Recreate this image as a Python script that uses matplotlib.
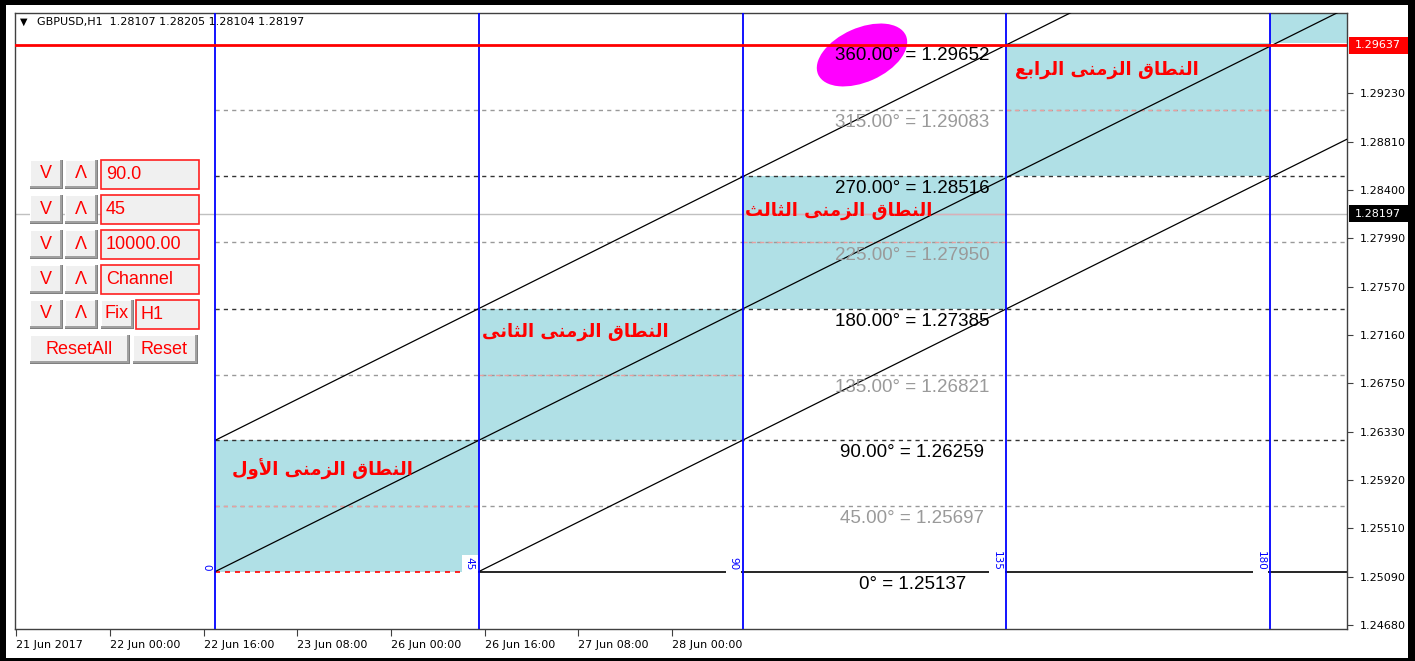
import matplotlib
matplotlib.use("Agg")
import matplotlib.pyplot as plt
from matplotlib.patches import Rectangle, Ellipse
from matplotlib.transforms import IdentityTransform

# ---------------- data ----------------
header_text = "GBPUSD,H1  1.28107 1.28205 1.28104 1.28197"
x_tick_bars = [0, 16, 32, 48, 64, 80, 96, 112]
x_tick_labels = ["21 Jun 2017", "22 Jun 00:00", "22 Jun 16:00", "23 Jun 08:00",
                 "26 Jun 00:00", "26 Jun 16:00", "27 Jun 08:00", "28 Jun 00:00"]
y_ticks = [1.24680, 1.25090, 1.25510, 1.25920, 1.26330, 1.26750,
           1.27160, 1.27570, 1.27990, 1.28400, 1.28810, 1.29230]
level_angles = [0, 45, 90, 135, 180, 225, 270, 315, 360]
level_prices = [1.25137, 1.25697, 1.26259, 1.26821, 1.27385,
                1.27950, 1.28516, 1.29083, 1.29652]
time_bars = [34, 79, 124, 169, 214]
time_labels = ["0", "45", "90", "135", "180"]
zone_names = ["النطاق الزمنى الأول", "النطاق الزمنى الثانى",
              "النطاق الزمنى الثالث", "النطاق الزمنى الرابع"]
bid_price = 1.28197
alert_price = 1.29637
panel_values = ["90.0", "45", "10000.00", "Channel", "H1"]
panel_buttons = ["V", "Λ", "Fix", "ResetAll", "Reset"]

# ---------------- style / layout ----------------
W, H, DPI = 1415, 661, 100
X_LIM = (-0.2, 227.2)
Y_LIM = (1.246458, 1.299108)
LABEL_BAR = 153
zone_label_pos = [(36.9, 1.26013), (79.6, 1.27184), (124.5, 1.28218), (170.6, 1.29424)]
ellipse_center = (144.4, 1.29552)
CYAN = "#B0E0E6"
SALMON = "#E8A0A0"

# simple Arabic shaping to presentation forms (visual order)
FORMS = {
    'ا': ('\uFE8D', '\uFE8E', None, None),
    'أ': ('\uFE83', '\uFE84', None, None),
    'ب': ('\uFE8F', '\uFE90', '\uFE91', '\uFE92'),
    'ث': ('\uFE99', '\uFE9A', '\uFE9B', '\uFE9C'),
    'ر': ('\uFEAD', '\uFEAE', None, None),
    'ز': ('\uFEAF', '\uFEB0', None, None),
    'ط': ('\uFEC1', '\uFEC2', '\uFEC3', '\uFEC4'),
    'ع': ('\uFEC9', '\uFECA', '\uFECB', '\uFECC'),
    'ق': ('\uFED5', '\uFED6', '\uFED7', '\uFED8'),
    'ل': ('\uFEDD', '\uFEDE', '\uFEDF', '\uFEE0'),
    'م': ('\uFEE1', '\uFEE2', '\uFEE3', '\uFEE4'),
    'ن': ('\uFEE5', '\uFEE6', '\uFEE7', '\uFEE8'),
    'و': ('\uFEED', '\uFEEE', None, None),
    'ى': ('\uFEEF', '\uFEF0', None, None),
}
LAM_ALEF = {'ا': ('\uFEFB', '\uFEFC'), 'أ': ('\uFEF7', '\uFEF8')}


def shape_word(word):
    units = []
    i = 0
    while i < len(word):
        c = word[i]
        if c == 'ل' and i + 1 < len(word) and word[i + 1] in LAM_ALEF:
            units.append(('LA', word[i + 1]))
            i += 2
        else:
            units.append(('C', c))
            i += 1

    def dual(u):
        return u[0] == 'C' and u[1] in FORMS and FORMS[u[1]][2] is not None

    out = []
    for k, u in enumerate(units):
        jp = k > 0 and dual(units[k - 1])
        if u[0] == 'LA':
            out.append(LAM_ALEF[u[1]][1 if jp else 0])
            continue
        c = u[1]
        if c not in FORMS:
            out.append(c)
            continue
        f = FORMS[c]
        jn = k + 1 < len(units) and f[2] is not None
        if jp and jn:
            out.append(f[3])
        elif jp:
            out.append(f[1])
        elif jn:
            out.append(f[2])
        else:
            out.append(f[0])
    return ''.join(out)


def shape(text):
    return ' '.join(shape_word(w) for w in text.split(' '))[::-1]


fig = plt.figure(figsize=(W / DPI, H / DPI), dpi=DPI)
fig.patch.set_facecolor("white")


def fx(px):
    return px / W


def fy(py):
    return 1 - py / H


L, R, T, B = 15, 1347, 13, 629
ax = fig.add_axes([fx(L), fy(B), (R - L) / W, (B - T) / H])
ax.set_xlim(*X_LIM)
ax.set_ylim(*Y_LIM)
ax.set_autoscale_on(False)
xmin, xmax = X_LIM
ymin, ymax = Y_LIM

for s in ax.spines.values():
    s.set_color("#404040")
    s.set_linewidth(1)

# cyan time zones
for i in range(len(time_bars)):
    x0 = time_bars[i]
    x1 = time_bars[i + 1] if i + 1 < len(time_bars) else xmax
    y0 = level_prices[2 * i]
    y1 = level_prices[2 * i + 2] if 2 * i + 2 < len(level_prices) else ymax
    ax.add_patch(Rectangle((x0, y0), x1 - x0, y1 - y0, facecolor=CYAN,
                           edgecolor="none", zorder=1))

# bid line
ax.axhline(bid_price, color="#C0C0C0", lw=1, zorder=2)
for i in range(len(time_bars) - 1):
    if level_prices[2 * i] <= bid_price < level_prices[2 * i + 2]:
        ax.plot([time_bars[i], time_bars[i + 1]], [bid_price, bid_price],
                color="#D8B0B8", lw=1, zorder=2.1)

# level lines + labels
for idx, (a, p) in enumerate(zip(level_angles, level_prices)):
    if a == 0:
        ax.plot([time_bars[0], time_bars[1]], [p, p], color="red", lw=1.2,
                ls=(0, (3, 3)), zorder=2.5)
        ax.plot([time_bars[1], xmax], [p, p], color="black", lw=1.2, zorder=2.5)
        txt, col = "0° = %.5f" % p, "black"
    elif a % 90 == 0:
        if a < 360:
            ax.plot([time_bars[0], xmax], [p, p], color="#333333", lw=1,
                    ls=(0, (3, 3)), zorder=2.5)
        txt, col = "%.2f° = %.5f" % (a, p), "black"
    else:
        ax.plot([time_bars[0], xmax], [p, p], color="#999999", lw=1,
                ls=(0, (3, 3)), zorder=2.5)
        k = (idx - 1) // 2
        ax.plot([time_bars[k], time_bars[k + 1]], [p, p], color=SALMON, lw=1,
                ls=(0, (3, 3)), zorder=2.6)
        txt, col = "%.2f° = %.5f" % (a, p), "#9A9A9A"
    ax.annotate(txt, (LABEL_BAR, p), xytext=(0, -3), textcoords="offset points",
                ha="center", va="top", fontsize=13.5, family="Liberation Sans",
                color=col, zorder=7)

# magenta highlight ellipse (pixel-sized) around 360 label
cx, cy = ax.transData.transform(ellipse_center)
ax.add_patch(Ellipse((cx, cy), 96, 54, angle=24, facecolor="#FF00FF",
                     edgecolor="none", transform=IdentityTransform(), zorder=5.2))


# diagonal lines
def ray(x0, y0, x1, y1):
    slope = (y1 - y0) / (x1 - x0)
    ax.plot([x0, xmax], [y0, y0 + slope * (xmax - x0)], color="black", lw=0.9,
            zorder=4)


ray(time_bars[0], level_prices[2], time_bars[1], level_prices[4])
ray(time_bars[0], level_prices[0], time_bars[1], level_prices[2])
ray(time_bars[1], level_prices[0], time_bars[2], level_prices[2])

# vertical time lines
for tb, tl in zip(time_bars, time_labels):
    ax.axvline(tb, color="#0000FF", lw=1.3, zorder=5)
    ax.annotate(tl, (tb, level_prices[0]), xytext=(-4, 1), textcoords="offset pixels",
                rotation=270, ha="right", va="bottom", color="#0000FF", fontsize=7.5,
                bbox=dict(boxstyle="square,pad=0.25", fc="white", ec="none"), zorder=6)

# alert red line
ax.axhline(alert_price, color="red", lw=2, zorder=5.5)

# zone names
for name, (zx, zy) in zip(zone_names, zone_label_pos):
    ax.text(zx, zy, shape(name), ha="left", va="center", color="red",
            fontsize=13, fontweight="bold", family="DejaVu Sans", zorder=7)

# axes ticks
ax.set_xticks(x_tick_bars)
ax.set_xticklabels(x_tick_labels, fontsize=8, family="DejaVu Sans")
for lbl in ax.get_xticklabels():
    lbl.set_ha("left")
ax.tick_params(axis="x", direction="out", length=5, pad=3, color="#404040")
ax.yaxis.tick_right()
ax.set_yticks(y_ticks)
ax.set_yticklabels(["%.5f" % v for v in y_ticks], fontsize=8, family="DejaVu Sans")
ax.tick_params(axis="y", direction="out", length=4, pad=5, color="#404040")


def axfrac(px):
    return (px - L) / (R - L)


def price_box(price, bg):
    half = 8.5 * (ymax - ymin) / (B - T)
    ax.add_patch(Rectangle((axfrac(1349), price - half), axfrac(1408) - axfrac(1349),
                           2 * half, transform=ax.get_yaxis_transform(),
                           facecolor=bg, edgecolor="none", clip_on=False, zorder=8))
    ax.text(axfrac(1355), price, "%.5f" % price, transform=ax.get_yaxis_transform(),
            ha="left", va="center", color="white", fontsize=8, family="DejaVu Sans",
            clip_on=False, zorder=9)


price_box(alert_price, "#FF0000")
price_box(bid_price, "#000000")

# header
fig.text(fx(20), fy(22), "▼", fontsize=7, va="center", ha="left", family="DejaVu Sans")
fig.text(fx(37), fy(22), header_text, fontsize=8, va="center", ha="left",
         family="DejaVu Sans")


# control panel
def fig_rect(x0, y0, x1, y1, **kw):
    fig.patches.append(Rectangle((fx(x0), fy(y1)), fx(x1) - fx(x0), fy(y0) - fy(y1),
                                 transform=fig.transFigure, figure=fig, **kw))


def button(x0, y0, x1, y1, label):
    fig_rect(x0, y0, x1, y1, facecolor="#808080", edgecolor="none", zorder=10)
    fig_rect(x0, y0, x1 - 1, y1 - 1, facecolor="#A0A0A0", edgecolor="none", zorder=10)
    fig_rect(x0, y0, x1 - 3, y1 - 3, facecolor="#FFFFFF", edgecolor="none", zorder=10)
    fig_rect(x0 + 1, y0 + 1, x1 - 3, y1 - 3, facecolor="#F0F0F0", edgecolor="none",
             zorder=10)
    fig.text(fx((x0 + x1 - 2) / 2), fy((y0 + y1 - 1) / 2), label, ha="center",
             va="center", color="red", fontsize=13, family="Liberation Sans", zorder=11)


def edit(x0, y0, x1, y1, label):
    fig_rect(x0, y0, x1, y1, facecolor="#F0F0F0", edgecolor="#FF2020", lw=1.2,
             zorder=10)
    fig.text(fx(x0 + 5), fy((y0 + y1) / 2), label, ha="left", va="center",
             color="red", fontsize=13, family="Liberation Sans", zorder=11)


for r in range(5):
    y0 = 160 + 35 * r
    y1 = y0 + 29
    button(30, y0, 63, y1, panel_buttons[0])
    button(65, y0, 98, y1, panel_buttons[1])
    if r < 4:
        edit(101, y0, 199, y1, panel_values[r])
    else:
        button(101, y0, 134, y1, panel_buttons[2])
        edit(136, y0, 199, y1, panel_values[r])
y0 = 160 + 35 * 5
button(30, y0, 130, y0 + 29, panel_buttons[3])
button(133, y0, 198, y0 + 29, panel_buttons[4])

# outer black frame
fig_rect(0, 0, 6, H, facecolor="black", edgecolor="none", zorder=20)
fig_rect(0, 0, W, 5, facecolor="black", edgecolor="none", zorder=20)
fig_rect(1408, 0, W, H, facecolor="black", edgecolor="none", zorder=20)
fig_rect(0, 658, W, H, facecolor="black", edgecolor="none", zorder=20)

fig.savefig("out.png", dpi=DPI, facecolor="white")
